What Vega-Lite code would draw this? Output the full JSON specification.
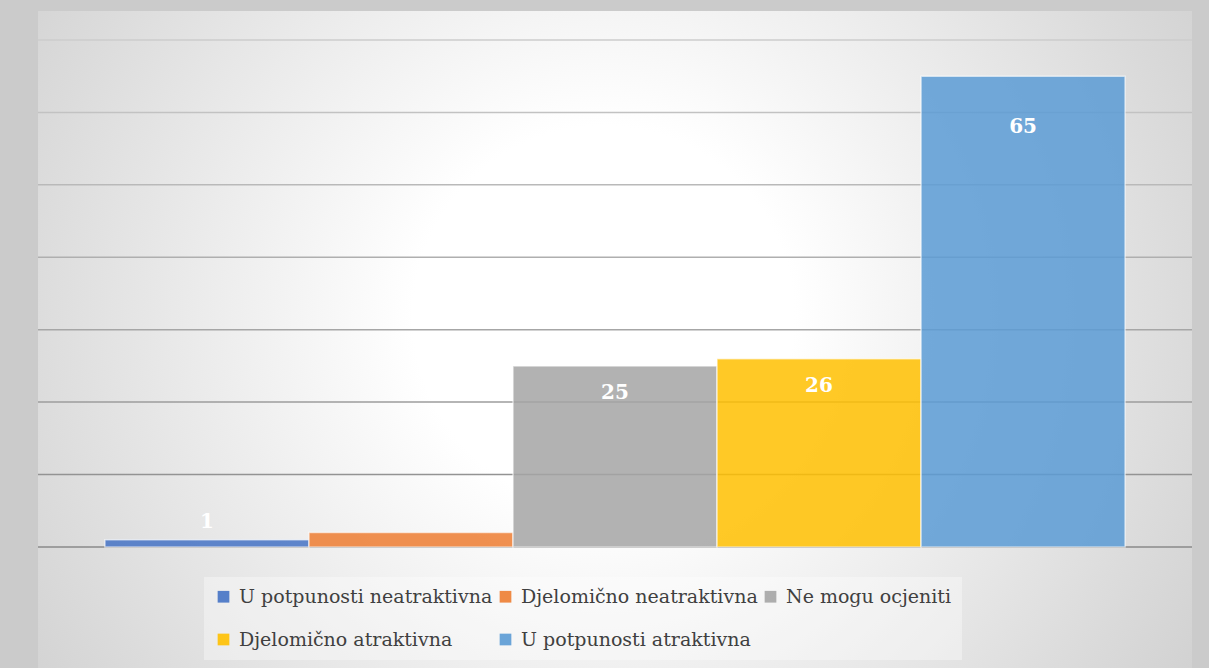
{
  "$schema": "https://vega.github.io/schema/vega-lite/v6.json",
  "width": 1154,
  "height": 657,
  "autosize": {"type": "none"},
  "padding": {"left": 38, "top": 11, "right": 17, "bottom": 0},
  "background": "#cbcbcb",
  "view": {
    "stroke": null,
    "fill": {
      "gradient": "radial",
      "x1": 0.49, "y1": 0.48, "r1": 0,
      "x2": 0.49, "y2": 0.48, "r2": 0.75,
      "stops": [
        {"offset": 0, "color": "#ffffff"},
        {"offset": 0.22, "color": "#ffffff"},
        {"offset": 0.66, "color": "#dcdcdc"},
        {"offset": 1, "color": "#c2c2c2"}
      ]
    }
  },
  "datasets": {
    "answers": [
      {"category": "U potpunosti neatraktivna", "value": 1, "label": "1"},
      {"category": "Djelomično neatraktivna", "value": 2, "label": ""},
      {"category": "Ne mogu ocjeniti", "value": 25, "label": "25"},
      {"category": "Djelomično atraktivna", "value": 26, "label": "26"},
      {"category": "U potpunosti atraktivna", "value": 65, "label": "65"}
    ],
    "grid": [
      {"tick": 0}, {"tick": 10}, {"tick": 20}, {"tick": 30},
      {"tick": 40}, {"tick": 50}, {"tick": 60}, {"tick": 70}
    ]
  },
  "layer": [
    {
      "data": {"name": "grid"},
      "mark": {"type": "rule", "strokeWidth": 1.5},
      "encoding": {
        "y": {"field": "tick", "type": "quantitative", "scale": {"domain": [-16.71, 74.0], "nice": false, "zero": false}, "axis": null},
        "stroke": {"field": "tick", "type": "quantitative", "scale": {"domain": [0, 70], "range": ["#8a8a8a", "#cccccc"]}, "legend": null}
      }
    },
    {
      "data": {"name": "answers"},
      "mark": {"type": "bar", "fillOpacity": 0.85, "stroke": "#ffffff", "strokeOpacity": 0.6, "strokeWidth": 1.5},
      "encoding": {
        "x": {"field": "category", "type": "nominal", "sort": null, "scale": {"paddingInner": 0, "paddingOuter": 0.328}, "axis": null},
        "y": {"field": "value", "type": "quantitative", "stack": null, "scale": {"domain": [-16.71, 74.0], "nice": false, "zero": false}, "axis": null},
        "color": {
          "field": "category", "type": "nominal", "sort": null,
          "scale": {
            "domain": ["U potpunosti neatraktivna", "Djelomično neatraktivna", "Ne mogu ocjeniti", "Djelomično atraktivna", "U potpunosti atraktivna"],
            "range": ["#4472C4", "#ED7D31", "#A5A5A5", "#FFC000", "#5B9BD5"]
          },
          "legend": {
            "orient": "none", "legendX": 166, "legendY": 566,
            "direction": "horizontal", "columns": 3, "title": null,
            "symbolType": "square", "symbolSize": 137, "symbolStrokeWidth": 0, "symbolOpacity": 0.9,
            "labelFont": "DejaVu Serif", "labelFontSize": 19, "labelColor": "#404040", "labelLimit": 400,
            "labelOffset": 6, "fillColor": "rgba(255,255,255,0.35)", "padding": 10,
            "rowPadding": 23, "columnPadding": 3
          }
        }
      }
    },
    {
      "data": {"name": "answers"},
      "transform": [{"filter": "datum.value >= 10 && datum.value < 60"}],
      "mark": {"type": "text", "font": "DejaVu Serif", "fontWeight": "bold", "fontSize": 20, "color": "#ffffff", "baseline": "middle", "dy": 27},
      "encoding": {
        "x": {"field": "category", "type": "nominal", "sort": null, "axis": null},
        "y": {"field": "value", "type": "quantitative", "axis": null},
        "text": {"field": "label"}
      }
    },
    {
      "data": {"name": "answers"},
      "transform": [{"filter": "datum.value >= 60"}],
      "mark": {"type": "text", "font": "DejaVu Serif", "fontWeight": "bold", "fontSize": 20, "color": "#ffffff", "baseline": "middle", "dy": 51},
      "encoding": {
        "x": {"field": "category", "type": "nominal", "sort": null, "axis": null},
        "y": {"field": "value", "type": "quantitative", "axis": null},
        "text": {"field": "label"}
      }
    },
    {
      "data": {"name": "answers"},
      "transform": [{"filter": "datum.value < 10"}],
      "mark": {"type": "text", "font": "DejaVu Serif", "fontWeight": "bold", "fontSize": 20, "color": "#ffffff", "baseline": "middle", "dy": -18},
      "encoding": {
        "x": {"field": "category", "type": "nominal", "sort": null, "axis": null},
        "y": {"field": "value", "type": "quantitative", "axis": null},
        "text": {"field": "label"}
      }
    }
  ]
}
